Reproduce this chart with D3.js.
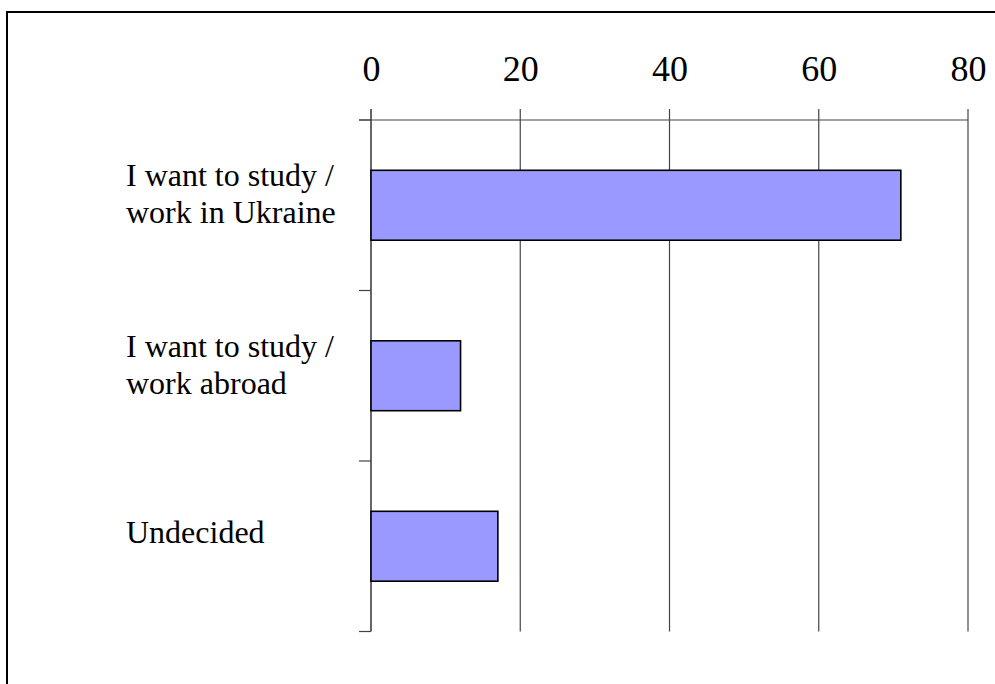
<!DOCTYPE html>
<html>
<head>
<meta charset="utf-8">
<script src="https://cdn.jsdelivr.net/npm/d3@7"></script>
<style>
  body { margin: 0; background: #fff; }
  svg { display: block; }
  text { font-family: "Liberation Serif", "Times New Roman", serif; fill: #000; }
</style>
</head>
<body>
<div id="chart"></div>
<script>
// answers, top to bottom
var categories = ["I want to study / work in Ukraine", "I want to study / work abroad", "Undecided"];
var labelLines = [["I want to study /", "work in Ukraine"], ["I want to study /", "work abroad"], ["Undecided"]];
var values = [71, 12, 17];
var ticks = [0, 20, 40, 60, 80];

var W = 995, H = 684;

var svg = d3.select("#chart").append("svg")
  .attr("width", W)
  .attr("height", H);

// outer frame (runs off the right and bottom edge)
svg.append("rect")
  .attr("x", 7).attr("y", 12)
  .attr("width", 1000).attr("height", 700)
  .attr("fill", "none")
  .attr("stroke", "#000")
  .attr("stroke-width", 2);

// "top" is taken by window.top, so use plotTop
var plotTop = 120, plotBottom = 631.5;

var x = d3.scaleLinear().domain([0, 80]).range([371, 968]);
var y = d3.scaleBand().domain(categories).range([plotTop, plotBottom])
  .paddingInner(0.59).paddingOuter(0.295);
var step = y.step();

// vertical grid lines
svg.selectAll("line.grid").data(ticks).enter().append("line")
  .attr("class", "grid")
  .attr("x1", function(d){ return x(d); })
  .attr("x2", function(d){ return x(d); })
  .attr("y1", plotTop - 11)
  .attr("y2", plotBottom)
  .attr("stroke", function(d){ return d == 0 ? "#000" : "#444"; })
  .attr("stroke-width", 1.2);

// top axis
var axis = svg.append("g")
  .attr("transform", "translate(0," + plotTop + ")")
  .call(d3.axisTop(x).tickValues(ticks).tickSize(0).tickPadding(39));
axis.select(".domain").remove();
axis.selectAll("text")
  .attr("font-family", "Liberation Serif, Times New Roman, serif")
  .attr("font-size", 36)
  .attr("dy", "0em")
  .attr("fill", "#000");

svg.append("line")
  .attr("x1", 359).attr("x2", x(80))
  .attr("y1", plotTop).attr("y2", plotTop)
  .attr("stroke", "#444").attr("stroke-width", 1.2);

// category ticks on the left
var bounds = d3.range(categories.length + 1).map(function(i){ return plotTop + i * step; });
svg.selectAll("line.ytick").data(bounds).enter().append("line")
  .attr("class", "ytick")
  .attr("x1", 359).attr("x2", x(0))
  .attr("y1", function(d){ return d; })
  .attr("y2", function(d){ return d; })
  .attr("stroke", "#444").attr("stroke-width", 1.2);

// bars
svg.selectAll("rect.bar").data(values).enter().append("rect")
  .attr("class", "bar")
  .attr("x", x(0))
  .attr("y", function(d, i){ return y(categories[i]); })
  .attr("width", function(d){ return x(d) - x(0); })
  .attr("height", y.bandwidth())
  .attr("fill", "#9999ff")
  .attr("stroke", "#000")
  .attr("stroke-width", 1.6);

// category labels
var lab = svg.selectAll("text.cat").data(labelLines).enter().append("text")
  .attr("class", "cat")
  .attr("font-size", 32)
  .attr("x", 126)
  .attr("y", function(d, i){
    var c = plotTop + step * i + step / 2;
    return d.length > 1 ? c - 19 : c - 3;
  });
lab.selectAll("tspan").data(function(d){ return d; }).enter().append("tspan")
  .attr("x", 126)
  .attr("dy", function(d, j){ return j == 0 ? 0 : 37; })
  .text(function(d){ return d; });
</script>
</body>
</html>
